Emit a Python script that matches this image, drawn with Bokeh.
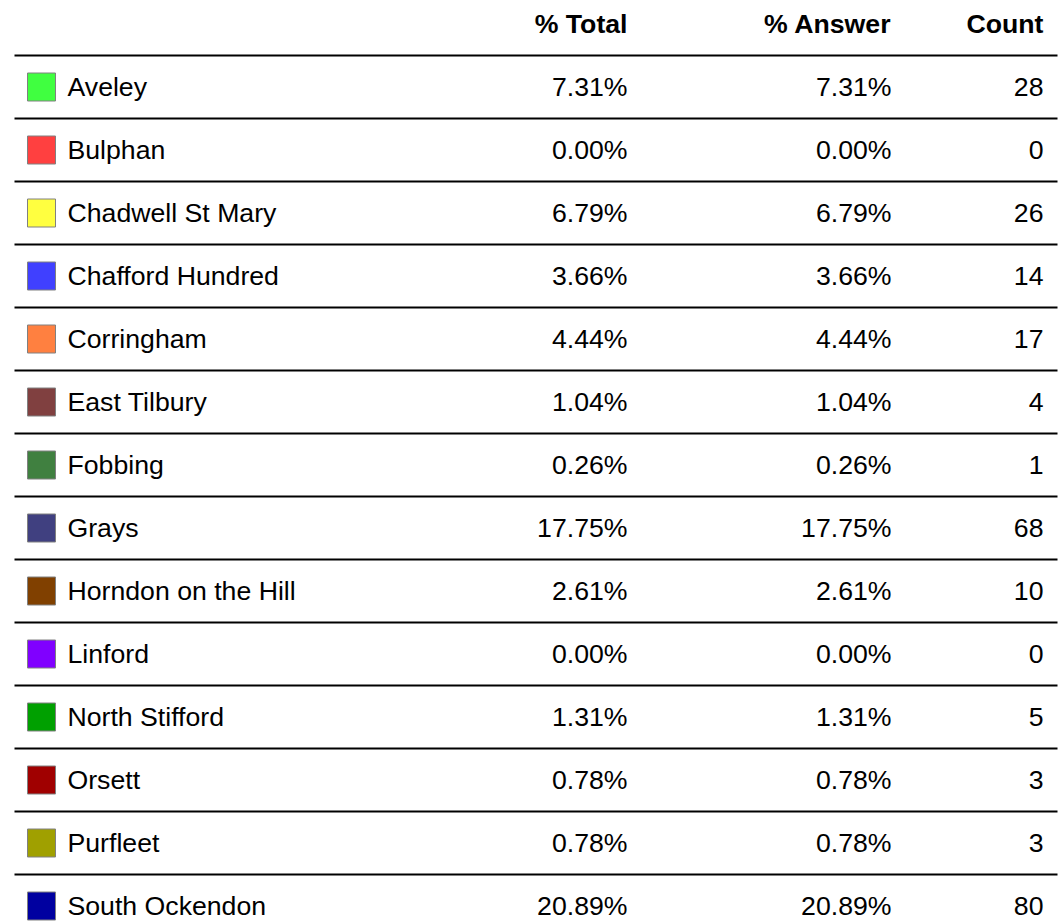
from bokeh.plotting import figure
from bokeh.models import Range1d, ColumnDataSource
from bokeh.core.properties import value
from bokeh.embed import file_html
from bokeh.resources import INLINE

names = ["Aveley", "Bulphan", "Chadwell St Mary", "Chafford Hundred", "Corringham",
         "East Tilbury", "Fobbing", "Grays", "Horndon on the Hill", "Linford",
         "North Stifford", "Orsett", "Purfleet", "South Ockendon"]
colors = ["#40FF40", "#FF4040", "#FFFF40", "#4040FF", "#FF8040", "#804040", "#408040",
          "#404080", "#804000", "#8000FF", "#00A000", "#A00000", "#A0A000", "#0000A0"]
pct_total = [7.31, 0.00, 6.79, 3.66, 4.44, 1.04, 0.26, 17.75, 2.61, 0.00, 1.31, 0.78, 0.78, 20.89]
pct_answer = [7.31, 0.00, 6.79, 3.66, 4.44, 1.04, 0.26, 17.75, 2.61, 0.00, 1.31, 0.78, 0.78, 20.89]
counts = [28, 0, 26, 14, 17, 4, 1, 68, 10, 0, 5, 3, 3, 80]
headers = ["% Total", "% Answer", "Count"]

W, H = 1064, 921
ROW = 63.0
top = -23.5 / ROW
p = figure(width=W, height=H, output_backend="svg", toolbar_location=None,
           x_range=Range1d(0, W), y_range=Range1d(top + H / ROW, top),
           min_border=0, outline_line_color=None)
p.xaxis.visible = False
p.yaxis.visible = False
p.grid.visible = False
p.background_fill_color = "white"

rows = list(range(1, len(names) + 1))
src = ColumnDataSource(dict(
    y=rows, name=names, color=colors,
    tot=[f"{v:.2f}%" for v in pct_total],
    ans=[f"{v:.2f}%" for v in pct_answer],
    cnt=[str(c) for c in counts],
    ytop=[r - 0.5 for r in rows],
))

font = value("Liberation Sans")
fs = "26.67px"

# separator lines
p.segment(x0=14, x1=1057, y0="ytop", y1="ytop", source=src, line_color="black", line_width=2)

# swatches
p.rect(x=41, y="y", width=28, height=28, width_units="screen", height_units="screen",
       fill_color="color", line_color="#808080", line_width=1, source=src)

p.text(x=67, y="y", text="name", source=src, text_font=font, text_font_size=fs,
       text_baseline="middle", text_align="left", text_color="black")
p.text(x=627, y="y", text="tot", source=src, text_font=font, text_font_size=fs,
       text_baseline="middle", text_align="right", text_color="black")
p.text(x=891, y="y", text="ans", source=src, text_font=font, text_font_size=fs,
       text_baseline="middle", text_align="right", text_color="black")
p.text(x=1043, y="y", text="cnt", source=src, text_font=font, text_font_size=fs,
       text_baseline="middle", text_align="right", text_color="black")

# header
p.text(x=[627, 891, 1043], y=[0, 0, 0], text=headers, text_font=font, text_font_size=fs,
       text_font_style="bold", text_baseline="middle", text_align="right", text_color="black")

open("out.html", "w").write(file_html(p, INLINE))
